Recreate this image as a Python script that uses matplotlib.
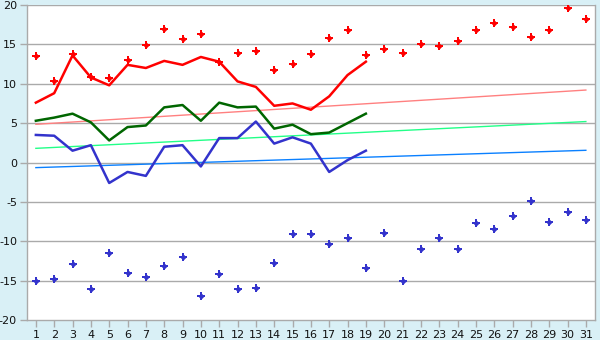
import matplotlib
matplotlib.use("Agg")
import matplotlib.pyplot as plt
import numpy as np

days = list(range(1, 32))
days_line = list(range(1, 20))

red_line = [7.6, 8.8, 13.6, 10.8, 9.8, 12.4, 12.0, 12.9, 12.4, 13.4,
            12.8, 10.3, 9.6, 7.2, 7.5, 6.7, 8.4, 11.1, 12.8]
green_line = [5.3, 5.7, 6.2, 5.1, 2.8, 4.5, 4.7, 7.0, 7.3, 5.3,
              7.6, 7.0, 7.1, 4.3, 4.8, 3.6, 3.8, 5.0, 6.2]
blue_line = [3.5, 3.4, 1.5, 2.2, -2.6, -1.2, -1.7, 2.0, 2.2, -0.5,
             3.1, 3.1, 5.2, 2.4, 3.2, 2.4, -1.2, 0.3, 1.5]

red_marks = [13.5, 10.4, 13.8, 10.9, 10.7, 13.0, 14.9, 17.0, 15.7, 16.3,
             12.8, 13.9, 14.2, 11.8, 12.5, 13.8, 15.8, 16.8, 13.6, 14.4,
             13.9, 15.0, 14.8, 15.4, 16.8, 17.7, 17.2, 15.9, 16.8, 19.6, 18.2]
blue_marks = [-15.0, -14.8, -12.9, -16.0, -11.5, -14.0, -14.5, -13.1, -12.0, -17.0,
              -14.1, -16.0, -15.9, -12.8, -9.1, -9.1, -10.3, -9.6, -13.4, -8.9,
              -15.1, -11.0, -9.6, -11.0, -7.7, -8.5, -6.8, -4.9, -7.5, -6.3, -7.3]

trend_days = [1, 31]
pink_trend = [4.85, 9.2]
green_trend = [1.8, 5.2]
blue_trend = [-0.65, 1.55]

y_ticks = [-20, -15, -10, -5, 0, 5, 10, 15, 20]

bg = "#d9f0f6"
fig = plt.figure(figsize=(6, 3.4), dpi=100, facecolor=bg)
ax = fig.add_axes([0.0445, 0.0588, 0.9472, 0.9265])
ax.set_facecolor("white")

for t in y_ticks[1:]:
    ax.axhline(t, color="#aaaaaa", lw=1, zorder=1)

ax.plot(trend_days, pink_trend, color="#ff8080", lw=1, zorder=2)
ax.plot(trend_days, green_trend, color="#22ff88", lw=1, zorder=2)
ax.plot(trend_days, blue_trend, color="#0a80ff", lw=1, zorder=2)

ax.plot(days_line, red_line, color="#ff0000", lw=1.8, zorder=3)
ax.plot(days_line, green_line, color="#006600", lw=1.8, zorder=3)
ax.plot(days_line, blue_line, color="#3333cc", lw=1.8, zorder=3)

for vals, col in [(red_marks, "#ff0000"), (blue_marks, "#3333cc")]:
    ax.plot(days, vals, ls="none", marker="P", ms=5.5, color=col,
            markeredgewidth=0, zorder=4)
    ax.plot(days, vals, ls="none", marker="D", ms=3.2, color=col,
            markeredgewidth=0, zorder=4)

ax.set_xlim(0.5, 31.5)
ax.set_ylim(-20, 20)
ax.set_xticks(days)
ax.set_xticklabels([str(d) for d in days])
ax.set_yticks(y_ticks)
ax.set_yticklabels([str(t) for t in y_ticks])
ax.tick_params(axis="both", labelsize=8, color="#aaaaaa", length=5, width=1,
               labelcolor="#111111", pad=2)
for side in ["left", "bottom", "right"]:
    ax.spines[side].set_color("#aaaaaa")
    ax.spines[side].set_linewidth(1)
ax.spines["top"].set_visible(False)

fig.savefig("out.png", dpi=100, facecolor=bg)
